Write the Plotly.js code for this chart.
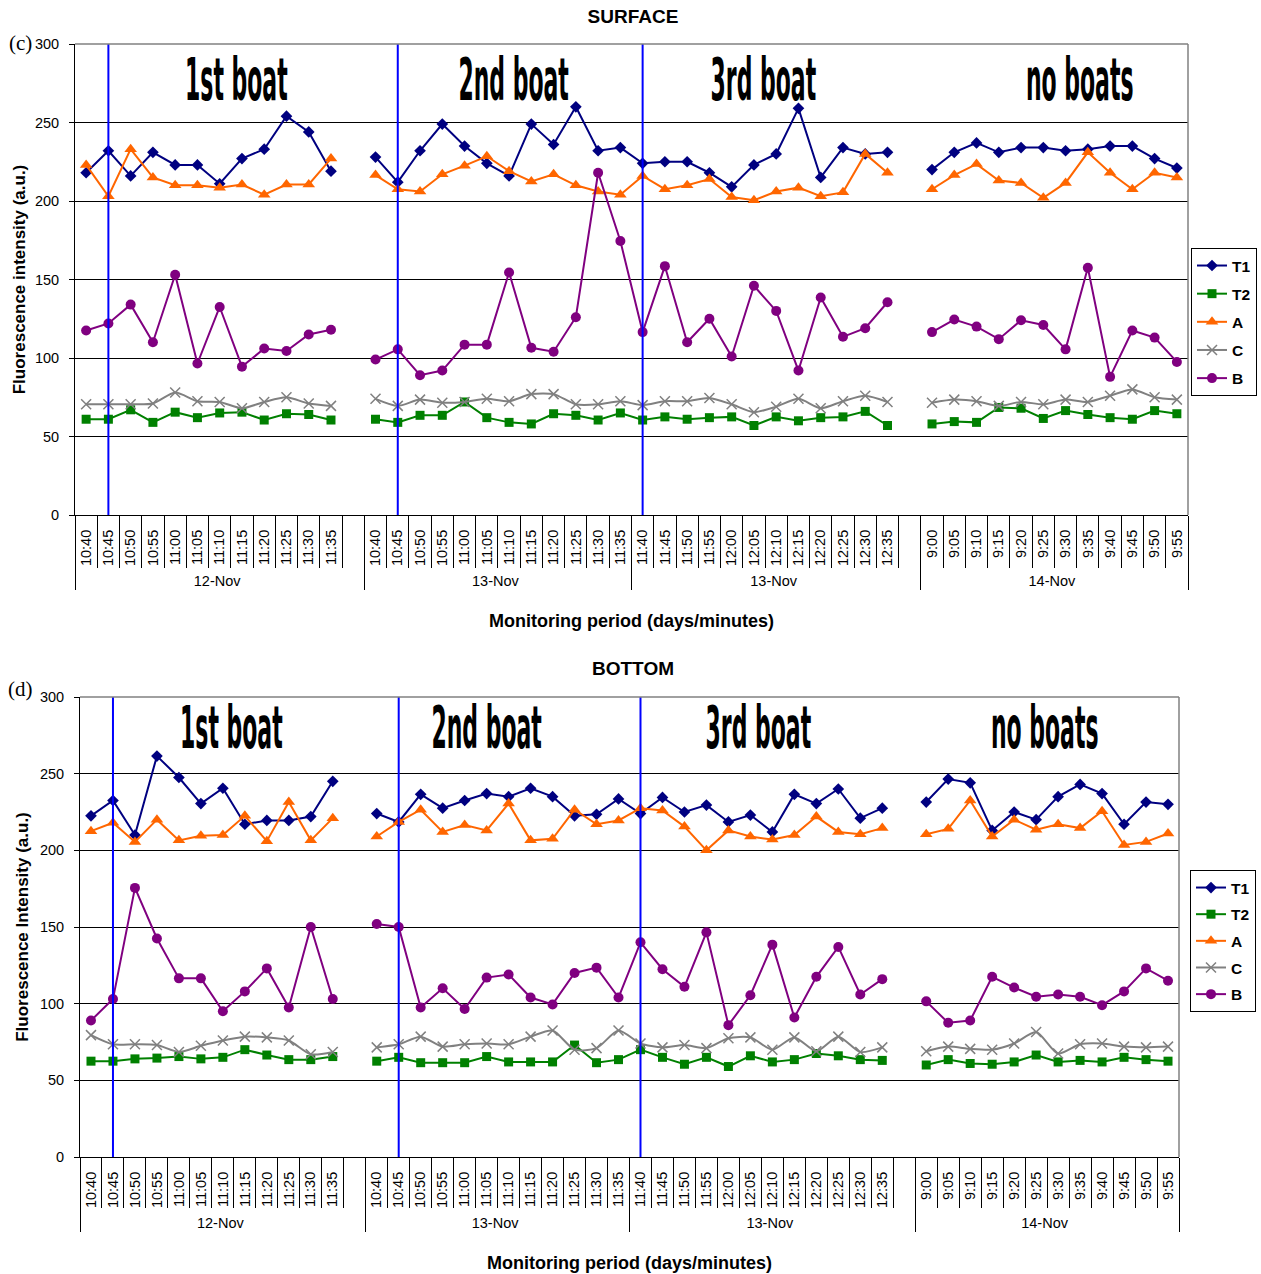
<!DOCTYPE html>
<html>
<head>
<meta charset="utf-8">
<script src="https://cdn.plot.ly/plotly-3.0.1.min.js"></script>
<style>
  html, body { margin: 0; padding: 0; background: #fff; }
  #surface { width: 1261px; height: 645px; }
  #bottom { width: 1261px; height: 629px; }
</style>
</head>
<body>
<div id="surface"></div>
<div id="bottom"></div>
<script>
// ---- category labels ----
const days = ['12-Nov', '13-Nov', '13-Nov', '14-Nov'];
const times1 = ['10:40','10:45','10:50','10:55','11:00','11:05','11:10','11:15','11:20','11:25','11:30','11:35'];
const times3 = ['11:40','11:45','11:50','11:55','12:00','12:05','12:10','12:15','12:20','12:25','12:30','12:35'];
const times4 = ['9:00','9:05','9:10','9:15','9:20','9:25','9:30','9:35','9:40','9:45','9:50','9:55'];
const seriesNames = ['T1', 'T2', 'A', 'C', 'B'];

// ---- SURFACE values (a.u.), one array per session ----
const surfT1_1 = [218, 232, 216, 231, 223, 223, 211, 227, 233, 254, 244, 219];
const surfT1_2 = [228, 212, 232, 249, 235, 224, 216, 249, 236, 260, 232, 234];
const surfT1_3 = [224, 225, 225, 218, 209, 223, 230, 259, 215, 234, 230, 231];
const surfT1_4 = [220, 231, 237, 231, 234, 234, 232, 233, 235, 235, 227, 221];

const surfT2_1 = [61, 61, 67, 59, 65.5, 62, 65, 65.5, 60.5, 64.5, 64, 60.5];
const surfT2_2 = [61, 59, 63.5, 63.5, 72, 62, 59, 58, 64.5, 63.5, 60.5, 65];
const surfT2_3 = [60.5, 62.5, 61, 62, 62.5, 57, 62.5, 60, 62, 62.5, 66, 57];
const surfT2_4 = [58, 59.5, 59, 68.5, 68, 61.5, 66.5, 64, 62, 61, 66.5, 64.5];

const surfA_1 = [223, 203, 233, 215, 210, 210, 208.5, 210.5, 204, 210.5, 210.5, 227];
const surfA_2 = [216.5, 207.5, 206, 217, 222.5, 228.5, 219, 212.5, 217, 210, 206, 204];
const surfA_3 = [216, 207.5, 210, 214, 202.5, 200.5, 206, 208.5, 203, 205.5, 230, 218];
const surfA_4 = [207.5, 216.5, 223.5, 213, 211.5, 202, 211.5, 231, 218, 207.5, 218, 215];

const surfC_1 = [70.5, 70.5, 70.5, 71, 78, 72.5, 72, 68, 72, 75, 71, 69.5];
const surfC_2 = [74, 69.5, 73.5, 71.5, 72, 74, 72.5, 77, 77, 70.5, 70.5, 72.5];
const surfC_3 = [70, 72.5, 72.5, 74.5, 70.5, 65.5, 69, 74, 68, 72.5, 76, 72];
const surfC_4 = [71.5, 73.5, 72.5, 69.5, 72, 70.5, 73.5, 72, 76, 80, 75, 73.5];

const surfB_1 = [117.5, 122, 134, 110, 153, 96.5, 132.5, 94.5, 106, 104.5, 115, 118];
const surfB_2 = [99, 105.5, 89, 92, 108.5, 108.5, 154.5, 106.5, 104, 126, 218, 174.5];
const surfB_3 = [116.5, 158.5, 110, 125, 101, 146, 130, 92, 138.5, 113.5, 119, 135.5];
const surfB_4 = [116.5, 124.5, 120, 112, 124, 121, 105.5, 157.5, 88, 117.5, 113, 97.5];

// ---- BOTTOM values (a.u.) ----
const botT1_1 = [222.5, 232.5, 210, 261.5, 247.5, 230.5, 240.5, 217, 219.5, 219.5, 222, 245];
const botT1_2 = [224, 218.5, 236.5, 227.5, 232.5, 237, 235, 240.5, 235, 222.5, 223.5, 233.5];
const botT1_3 = [224, 234.5, 225, 229.5, 218.5, 223, 212, 236.5, 230.5, 240, 221, 227.5];
const botT1_4 = [231.5, 246.5, 244, 213, 225, 220, 235, 243, 237, 217, 231.5, 230];

const botT2_1 = [62.5, 62.5, 64, 64.5, 65.5, 64, 65, 70, 66.5, 63.5, 63.5, 65.5];
const botT2_2 = [62.5, 65, 61.5, 61.5, 61.5, 65.5, 62, 62, 62, 73, 61.5, 63.5];
const botT2_3 = [70, 65, 60.5, 65, 59, 66, 62, 63.5, 67.5, 66, 63.5, 63];
const botT2_4 = [60, 63.5, 61, 60.5, 62, 66.5, 62, 63, 62, 65, 63.5, 62.5];

const botA_1 = [212.5, 218, 205.5, 220, 206.5, 209.5, 210, 222.5, 206, 231.5, 206.5, 221];
const botA_2 = [209, 218.5, 226.5, 212, 216.5, 213, 230.5, 206.5, 207.5, 226.5, 217, 219.5];
const botA_3 = [227.5, 226, 215.5, 200, 213, 209, 207, 210, 222, 212, 210.5, 214.5];
const botA_4 = [210.5, 214, 232.5, 209, 220, 213.5, 217, 214.5, 225.5, 203.5, 205.5, 211];

const botC_1 = [79.5, 73.5, 73.5, 73, 68.5, 72.5, 76, 78.5, 78, 76, 67, 68.5];
const botC_2 = [71.5, 73.5, 78.5, 72, 73.5, 74, 73.5, 78.5, 82.5, 70, 71, 82.5];
const botC_3 = [74, 71.5, 73, 71, 77.5, 78, 70, 78, 69, 78.5, 68.5, 71.5];
const botC_4 = [69, 72, 70.5, 70, 74, 81.5, 67.5, 73.5, 74, 72, 71.5, 72];

const botB_1 = [89, 103, 175.5, 142.5, 116.5, 116.5, 95, 108, 123, 97.5, 150, 103];
const botB_2 = [152, 150, 97.5, 110, 96.5, 117, 119, 104, 99.5, 120, 123.5, 104];
const botB_3 = [140, 122.5, 111, 146.5, 86, 105.5, 138.5, 91, 117.5, 137, 106, 116];
const botB_4 = [101.5, 87.5, 89, 117.5, 110.5, 104.5, 106, 104.5, 99, 108, 123, 115];

// boat passage markers: [day index, time]
const boatMarks = [[0, '10:45'], [1, '10:45'], [2, '11:40']];
const sessionLabels = ['1st boat', '2nd boat', '3rd boat', 'no boats'];

// ---- helpers ----
const FONT = 'Arial, "Liberation Sans", sans-serif';
// the second 13-Nov session is its own group on the axis
const dayKeys = [days[0], days[1], days[2] + '\u200b', days[3]];

function buildX() {
  const outer = [], inner = [];
  const add = (d, ts) => ts.forEach(t => { outer.push(d); inner.push(t); });
  add(dayKeys[0], times1); outer.push(dayKeys[0]); inner.push(' ');
  add(dayKeys[1], times1);
  add(dayKeys[2], times3); outer.push(dayKeys[2]); inner.push('  ');
  add(dayKeys[3], times4);
  return [outer, inner];
}
function joinSessions(s1, s2, s3, s4) {
  return [...s1, null, ...s2, ...s3, null, ...s4];
}

const styles = {
  T1: { color: '#000080', symbol: 'diamond', size: 9 },
  T2: { color: '#008000', symbol: 'square', size: 9 },
  A:  { color: '#FF6600', symbol: 'triangle-up', size: 11 },
  C:  { color: '#808080', symbol: 'x-thin-open', size: 10 },
  B:  { color: '#800080', symbol: 'circle', size: 10 }
};

function makeTraces(valuesByName, legendId) {
  const x = buildX();
  const traces = seriesNames.map(name => {
    const st = styles[name];
    return {
      type: 'scatter', mode: 'lines+markers', name: name,
      x: x, y: valuesByName[name],
      legend: legendId, legendgroup: name,
      line: { color: st.color, width: 2, shape: name === 'C' ? 'spline' : 'linear', smoothing: 0.7 },
      marker: { symbol: st.symbol, size: st.size, color: st.color,
                line: { color: st.color, width: name === 'C' ? 1.5 : 0 } },
      connectgaps: false, cliponaxis: false
    };
  });
  // vertical boat-arrival lines
  const bo = [], bi = [], by = [];
  boatMarks.forEach(([d, t]) => {
    bo.push(dayKeys[d], dayKeys[d], dayKeys[d]);
    bi.push(t, t, t);
    by.push(0, 300, null);
  });
  traces.push({
    type: 'scatter', mode: 'lines', x: [bo, bi], y: by,
    line: { color: '#0000FF', width: 2 }, showlegend: false, hoverinfo: 'skip'
  });
  return traces;
}

function makeLayout(o) {
  const annotations = sessionLabels.map((s, i) => ({
    text: s, xref: 'paper', yref: 'paper', x: o.headX[i], y: o.headY,
    xanchor: 'center', yanchor: 'middle', showarrow: false,
    font: { family: '"DejaVu Sans Condensed", "Liberation Sans Narrow", sans-serif', size: 33, weight: 'bold', color: '#000' }
  }));
  annotations.push({
    text: o.tag, xref: 'paper', yref: 'paper', x: o.tagX, y: o.tagY,
    xanchor: 'center', yanchor: 'middle', showarrow: false,
    font: { family: '"Liberation Serif", "Times New Roman", serif', size: 21, color: '#000' }
  });
  return {
    width: 1261, height: o.height,
    margin: { l: o.l, r: o.r, t: o.t, b: o.b, autoexpand: false },
    paper_bgcolor: '#fff', plot_bgcolor: '#fff',
    font: { family: FONT, size: 14.5, color: '#000' },
    title: { text: o.title, font: { family: FONT, size: 19, weight: 'bold', color: '#000' },
             x: 0.502, xref: 'container', xanchor: 'center', y: o.titleY, yref: 'container', yanchor: 'middle' },
    showlegend: true,
    legend: { x: o.legX, y: o.legY, xanchor: 'left', yanchor: 'top', xref: 'paper', yref: 'paper',
              bgcolor: '#fff', bordercolor: '#000', borderwidth: 1,
              traceorder: 'grouped', tracegroupgap: o.legGap,
              font: { family: FONT, size: 15.5, weight: 'bold', color: '#000' } },
    xaxis: {
      type: 'multicategory', range: [-0.5, 49.5], autorange: false,
      showline: true, linecolor: '#000', linewidth: 1,
      ticks: 'outside', tickson: 'boundaries', ticklen: o.ticklen, tickcolor: '#000', tickwidth: 1,
      ticklabelstandoff: 8,
      tickangle: -90, tickfont: { family: FONT, size: 14.5, color: '#000' }, nticks: 100,
      showdividers: true, dividercolor: '#000', dividerwidth: 1,
      showgrid: false, zeroline: false, automargin: false, fixedrange: true,
      title: { text: 'Monitoring period (days/minutes)', font: { family: FONT, size: 18, weight: 'bold', color: '#000' }, standoff: 26 }
    },
    yaxis: {
      range: [0, 300], tick0: 0, dtick: 50, showline: true, linecolor: '#000', linewidth: 1,
      ticks: 'outside', ticklen: 5, tickcolor: '#000', ticklabelstandoff: 7,
      showgrid: true, gridcolor: '#000', gridwidth: 1, zeroline: false, automargin: false, fixedrange: true,
      tickfont: { family: FONT, size: 14.5, color: '#000' },
      title: { text: o.ytitle, font: { family: FONT, size: 17, weight: 'bold', color: '#000' }, standoff: o.yStandoff }
    },
    shapes: [
      { type: 'line', xref: 'paper', yref: 'paper', x0: 0, x1: 1, y0: 1, y1: 1, line: { color: '#808080', width: 1.5 } },
      { type: 'line', xref: 'paper', yref: 'paper', x0: 1, x1: 1, y0: 0, y1: 1, line: { color: '#808080', width: 1.5 } }
    ],
    annotations: annotations
  };
}

// tall condensed look for the session headings
function stretchHeadings(gd) {
  gd.querySelectorAll('g.annotation').forEach(g => {
    const i = +g.getAttribute('data-index');
    if (i < sessionLabels.length) {
      const t = g.querySelector('text');
      if (t) {
        t.style.transformBox = 'fill-box';
        t.style.transformOrigin = 'center';
        t.style.transform = 'scale(0.74, 1.78)';
      }
    }
  });
}

const surfaceValues = {
  T1: joinSessions(surfT1_1, surfT1_2, surfT1_3, surfT1_4),
  T2: joinSessions(surfT2_1, surfT2_2, surfT2_3, surfT2_4),
  A:  joinSessions(surfA_1, surfA_2, surfA_3, surfA_4),
  C:  joinSessions(surfC_1, surfC_2, surfC_3, surfC_4),
  B:  joinSessions(surfB_1, surfB_2, surfB_3, surfB_4)
};
const bottomValues = {
  T1: joinSessions(botT1_1, botT1_2, botT1_3, botT1_4),
  T2: joinSessions(botT2_1, botT2_2, botT2_3, botT2_4),
  A:  joinSessions(botA_1, botA_2, botA_3, botA_4),
  C:  joinSessions(botC_1, botC_2, botC_3, botC_4),
  B:  joinSessions(botB_1, botB_2, botB_3, botB_4)
};

const config = { displayModeBar: false, staticPlot: true };

Plotly.newPlot('surface', makeTraces(surfaceValues, 'legend'), makeLayout({
  height: 645, l: 75, r: 73, t: 44, b: 130, ticklen: 52,
  title: 'SURFACE', titleY: 0.975,
  ytitle: 'Fluorescence intensity (a.u.)', yStandoff: 4,
  headX: [0.1451, 0.3944, 0.6186, 0.9021], headY: 0.924,
  tag: '(c)', tagX: -0.049, tagY: 1.002,
  legX: 1.0027, legY: 0.567, legGap: 5
}), config).then(stretchHeadings);

Plotly.newPlot('bottom', makeTraces(bottomValues, 'legend'), makeLayout({
  height: 629, l: 80, r: 82, t: 52, b: 117, ticklen: 50,
  title: 'BOTTOM', titleY: 0.9634,
  ytitle: 'Fluorescence Intensity (a.u.)', yStandoff: 6,
  headX: [0.1374, 0.3701, 0.6173, 0.878], headY: 0.934,
  tag: '(d)', tagX: -0.054, tagY: 1.017,
  legX: 1.010, legY: 0.624, legGap: 3.5
}), config).then(stretchHeadings);
</script>
</body>
</html>
